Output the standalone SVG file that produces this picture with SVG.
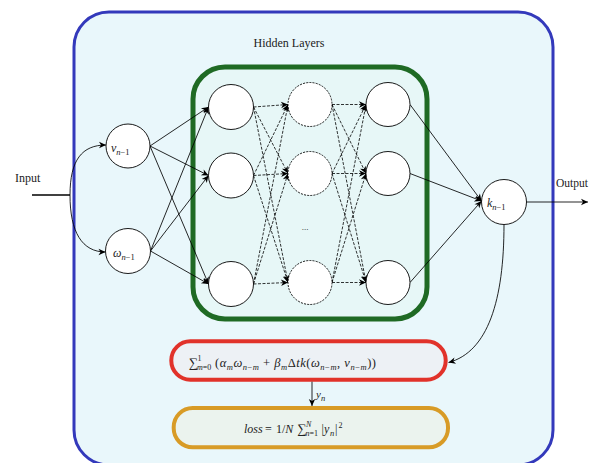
<svg xmlns="http://www.w3.org/2000/svg" width="590" height="463" viewBox="0 0 590 463">
<style>
  text { font-family: "Liberation Serif", "Times New Roman", serif; fill: #222; }
  .it { font-style: italic; }
  .sub { font-size: 8.5px; }
  .nd { fill: #fff; stroke: #000; stroke-width: 0.9; }
  .nd2 { fill: #fff; stroke: #000; stroke-width: 0.9; stroke-dasharray: 2 1.2; }
  .e { fill: none; stroke: #000; stroke-width: 0.85; marker-end: url(#ah); }
  .ed { fill: none; stroke: #000; stroke-width: 0.8; stroke-dasharray: 3 1.5; marker-end: url(#ah); }
</style>
<defs>
  <marker id="ah" viewBox="-8 -4 9 8" refX="0" refY="0" markerWidth="9" markerHeight="8" markerUnits="userSpaceOnUse" orient="auto">
    <path d="M0,0 L-7,-3.2 L-5,0 L-7,3.2 Z" fill="#000"/>
  </marker>
</defs>
<rect width="590" height="463" fill="#fff"/>

<g id="outer">
  <rect x="74" y="12" width="479" height="453" rx="35" fill="#e9f7fb" stroke="#3339bb" stroke-width="3"/>
  <text x="289" y="47" font-size="12" text-anchor="middle">Hidden Layers</text>
</g>

<g id="hidden-box">
  <rect x="193" y="67" width="234" height="252" rx="32" fill="#e7f7f7" stroke="#1f6a24" stroke-width="5"/>
  <text x="305" y="230" font-size="9" text-anchor="middle">...</text>
</g>

<g id="sum-box">
  <rect x="171.3" y="341.3" width="274.4" height="38.4" rx="19" fill="#edf1f5" stroke="#e1322a" stroke-width="4"/>
  <text x="189" y="367" font-size="13">∑</text>
  <text x="197.5" y="361" font-size="8">1</text>
  <text x="197" y="370" font-size="8"><tspan class="it">m</tspan>=0</text>
  <text x="215" y="367" font-size="12.5" textLength="161" lengthAdjust="spacing">(<tspan class="it">α</tspan><tspan class="it sub" dy="3">m</tspan><tspan class="it" dy="-3">ω</tspan><tspan class="sub" dy="3"><tspan class="it">n</tspan>−<tspan class="it">m</tspan></tspan><tspan dy="-3"> + </tspan><tspan class="it">β</tspan><tspan class="it sub" dy="3">m</tspan><tspan dy="-3">Δ</tspan><tspan class="it">tk</tspan>(<tspan class="it">ω</tspan><tspan class="sub" dy="3"><tspan class="it">n</tspan>−<tspan class="it">m</tspan></tspan><tspan dy="-3">, </tspan><tspan class="it">v</tspan><tspan class="sub" dy="3"><tspan class="it">n</tspan>−<tspan class="it">m</tspan></tspan><tspan dy="-3">))</tspan></text>
</g>

<g id="loss-box">
  <rect x="173.7" y="408" width="274.3" height="39.3" rx="19" fill="#ebf3ee" stroke="#d89b26" stroke-width="4"/>
  <text x="244" y="433" font-size="12" class="it">loss</text>
  <text x="265" y="433" font-size="12">=</text>
  <text x="276" y="433" font-size="12">1/<tspan class="it">N</tspan></text>
  <text x="297.5" y="433" font-size="13">∑</text>
  <text x="306" y="427" font-size="8" class="it">N</text>
  <text x="305.5" y="436" font-size="8"><tspan class="it">n</tspan>=1</text>
  <text x="321.5" y="433" font-size="12">|<tspan class="it">y</tspan></text>
  <text x="330" y="436" font-size="8.5" class="it">n</text>
  <text x="335" y="433" font-size="12">|</text>
  <text x="338.5" y="428" font-size="8">2</text>
</g>

<g id="connectors">
  <path d="M32,195 L70,195" fill="none" stroke="#000" stroke-width="1.3"/>
  <path class="e" d="M70,195 C70,160 82,145 106,145"/>
  <path class="e" d="M70,195 C70,232 82,252 105.5,252"/>
  <path class="e" d="M150,146 L208.5,107"/>
  <path class="e" d="M150,146 L208.5,175.5"/>
  <path class="e" d="M150,146 L208.5,284"/>
  <path class="e" d="M150.5,251 L208.5,107"/>
  <path class="e" d="M150.5,251 L208.5,175.5"/>
  <path class="e" d="M150.5,251 L208.5,284"/>
  <path class="ed" d="M253.5,107 L288,104.5"/>
  <path class="ed" d="M253.5,107 L288,173.5"/>
  <path class="ed" d="M253.5,107 L288,282.5"/>
  <path class="ed" d="M253.5,175.5 L288,104.5"/>
  <path class="ed" d="M253.5,175.5 L288,173.5"/>
  <path class="ed" d="M253.5,175.5 L288,282.5"/>
  <path class="ed" d="M253.5,284 L288,104.5"/>
  <path class="ed" d="M253.5,284 L288,173.5"/>
  <path class="ed" d="M253.5,284 L288,282.5"/>
  <path class="ed" d="M332,104.5 L366,104.5"/>
  <path class="ed" d="M332,104.5 L366,173.5"/>
  <path class="ed" d="M332,104.5 L366,282.5"/>
  <path class="ed" d="M332,173.5 L366,104.5"/>
  <path class="ed" d="M332,173.5 L366,173.5"/>
  <path class="ed" d="M332,173.5 L366,282.5"/>
  <path class="ed" d="M332,282.5 L366,104.5"/>
  <path class="ed" d="M332,282.5 L366,173.5"/>
  <path class="ed" d="M332,282.5 L366,282.5"/>
  <path class="e" d="M410,104.5 L481.5,201"/>
  <path class="e" d="M410,173.5 L481.5,201"/>
  <path class="e" d="M410,282.5 L481.5,201"/>
  <path class="e" d="M526.5,202 L588,202"/>
  <path class="e" d="M504,224.5 C504,300 488,352 448.5,362.5"/>
  <path class="e" d="M312,381.7 L312,406"/>
  <text x="316" y="398" font-size="11" class="it">y<tspan class="sub" dy="2.5">n</tspan></text>
</g>

<g id="input-label"><text x="15" y="182" font-size="12">Input</text></g>
<g id="output-label"><text x="556" y="187" font-size="11.5">Output</text></g>

<g id="node-v">
  <circle class="nd" cx="128" cy="146" r="22"/>
  <text x="111" y="152" font-size="12"><tspan class="it">v</tspan><tspan class="sub" dy="2.5"><tspan class="it">n</tspan>−1</tspan></text>
</g>
<g id="node-w">
  <circle class="nd" cx="128" cy="251" r="22.5"/>
  <text x="113" y="257" font-size="12"><tspan class="it">ω</tspan><tspan class="sub" dy="2.5"><tspan class="it">n</tspan>−1</tspan></text>
</g>
<g id="node-h11"><circle class="nd" cx="231" cy="107" r="22.5"/></g>
<g id="node-h12"><circle class="nd" cx="231" cy="175.5" r="22.5"/></g>
<g id="node-h13"><circle class="nd" cx="231" cy="284" r="22.5"/></g>
<g id="node-h21"><circle class="nd2" cx="310" cy="104.5" r="22"/></g>
<g id="node-h22"><circle class="nd2" cx="310" cy="173.5" r="22"/></g>
<g id="node-h23"><circle class="nd2" cx="310" cy="282.5" r="22"/></g>
<g id="node-h31"><circle class="nd" cx="388" cy="104.5" r="22"/></g>
<g id="node-h32"><circle class="nd" cx="388" cy="173.5" r="22"/></g>
<g id="node-h33"><circle class="nd" cx="388" cy="282.5" r="22"/></g>
<g id="node-k">
  <circle class="nd" cx="504" cy="202" r="22.5"/>
  <text x="487" y="207" font-size="12"><tspan class="it">k</tspan><tspan class="sub" dy="2.5"><tspan class="it">n</tspan>−1</tspan></text>
</g>
</svg>
